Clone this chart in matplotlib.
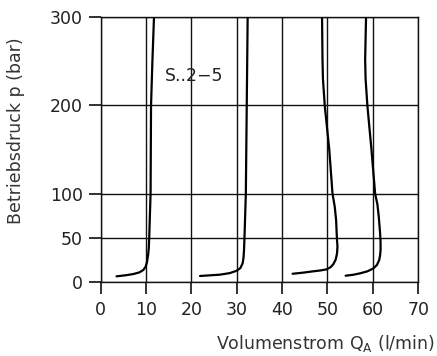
import numpy as np
import matplotlib.pyplot as plt

# curves: (flow l/min, pressure bar)
c1_q = [3.5, 5.5, 7.2, 8.5, 9.4, 9.9, 10.2, 10.45, 10.6, 10.7, 10.85, 11.0, 11.1, 11.4, 11.75]
c1_p = [6.1, 7.3, 8.7, 10.5, 13.3, 17, 22, 30, 38, 50, 75, 100, 200, 250, 300]

c2_q = [21.9, 24.0, 26.3, 28.5, 30.0, 30.8, 31.3, 31.5, 31.6, 31.7, 31.85, 32.0, 32.2, 32.4]
c2_p = [6.5, 7.2, 8.0, 9.8, 12.5, 15.5, 21, 28, 36, 50, 75, 100, 200, 300]

c3_q = [42.3, 44.5, 46.9, 48.5, 49.8, 50.7, 51.3, 51.8, 52.1, 52.2, 52.1, 52.0, 51.9,
        51.6, 51.1, 50.4, 49.4, 49.0, 48.9, 48.8]
c3_p = [9.0, 10.2, 11.8, 12.8, 14, 16.5, 20, 25, 32, 40, 47, 58, 70,
        85, 100, 149.5, 199.5, 230, 252, 300]

c4_q = [54.0, 55.6, 57.2, 58.8, 60.1, 60.9, 61.4, 61.6, 61.7, 61.7, 61.6, 61.3, 61.0,
        60.5, 59.7, 58.8, 58.4, 58.3, 58.5]
c4_p = [6.8, 7.8, 9.5, 11.8, 15, 19, 24.6, 30, 36, 45, 55, 74, 88,
        100, 149.5, 199.5, 230, 252, 300]

x_ticks = [0, 10, 20, 30, 40, 50, 60, 70]
y_ticks = [0, 50, 100, 200, 300]

plt.rcParams['font.family'] = 'DejaVu Sans'

fig = plt.figure(figsize=(4.37, 3.56), dpi=100)
ax = fig.add_axes([0.2304, 0.2087, 0.7266, 0.7427])

for q, p in [(c1_q, c1_p), (c2_q, c2_p), (c3_q, c3_p), (c4_q, c4_p)]:
    ax.plot(q, p, color='black', lw=1.6, solid_capstyle='round', solid_joinstyle='round')

ax.set_xlim(0, 70)
ax.set_ylim(0, 300)
ax.set_xticks(x_ticks)
ax.set_yticks(y_ticks)
ax.grid(True, color='#111111', lw=1.0)
for s in ax.spines.values():
    s.set_linewidth(1.0)
    s.set_color('#111111')
ax.tick_params(length=8.7, width=1.3, labelsize=12.5, colors='#222222')
ax.tick_params(axis='x', pad=5.5)
ax.tick_params(axis='y', pad=4)

ax.text(14.2, 233, 'S..2\u22125', fontsize=12.5, color='#222222', va='center')

fig.text(0.995, 0.019, 'Volumenstrom Q$_\\mathregular{A}$ (l/min)', ha='right',
         fontsize=12.5, color='#333333')
fig.text(0.037, 0.632, 'Betriebsdruck p (bar)', rotation=90, va='center', ha='center',
         fontsize=12.5, color='#333333')

fig.savefig('out.png', dpi=100)
